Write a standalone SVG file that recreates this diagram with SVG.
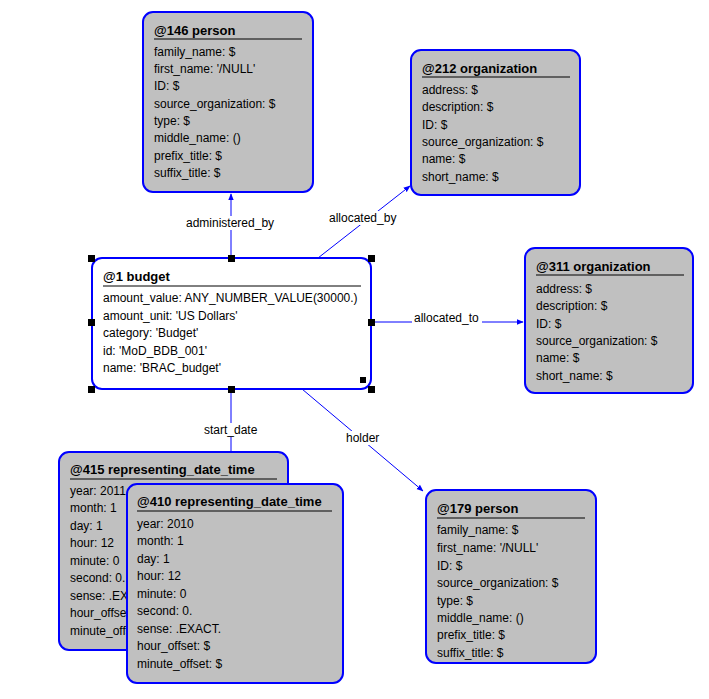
<svg xmlns="http://www.w3.org/2000/svg" width="709" height="699" viewBox="0 0 709 699">
<style>
.box{fill:#c0c0c0;stroke:#0000ff;stroke-width:2}
.sel{fill:#fff;stroke:#0000ff;stroke-width:2}
text{font-family:"Liberation Sans",Arial,sans-serif;font-size:12px;fill:#000}
.t{font-weight:bold;font-size:13px}
.ul{stroke:#000;stroke-width:1}
.c{stroke:#0000ff;stroke-width:1;fill:none}
.h{fill:#000}
</style>
<defs><marker id="a" viewBox="0 0 10 10" refX="9" refY="5" markerWidth="7" markerHeight="7" orient="auto"><path d="M0,1 L10,5 L0,9 z" fill="#0000ff"/></marker>
<clipPath id="cl"><rect x="59" y="484" width="67" height="170"/></clipPath></defs>
<rect width="709" height="699" fill="#fff"/>
<g id="connectors">
<line class="c" x1="231" y1="258" x2="231" y2="194" marker-end="url(#a)"/>
<line class="c" x1="318" y1="258" x2="410" y2="186" marker-end="url(#a)"/>
<line class="c" x1="371" y1="322" x2="523" y2="322" marker-end="url(#a)"/>
<line class="c" x1="231" y1="389" x2="231" y2="484" marker-end="url(#a)"/>
<line class="c" x1="302" y1="389" x2="423" y2="491" marker-end="url(#a)"/>
<rect x="182" y="216" width="96" height="14" fill="#fff"/><text x="186" y="227">administered_by</text>
<rect x="326" y="211" width="72" height="14" fill="#fff"/><text x="329" y="222">allocated_by</text>
<rect x="412" y="311" width="70" height="14" fill="#fff"/><text x="414" y="322">allocated_to</text>
<rect x="200" y="423" width="60" height="14" fill="#fff"/><text x="204" y="434">start_date</text>
<rect x="344" y="431" width="38" height="14" fill="#fff"/><text x="346" y="442">holder</text>
</g>
<g id="n146"><rect class="box" x="143" y="12" width="170" height="180" rx="10"/>
<text class="t" x="154" y="35">@146 person</text><line class="ul" x1="154" y1="39" x2="302" y2="39"/>
<text x="154" y="56">family_name: $</text><text x="154" y="73">first_name: '/NULL'</text><text x="154" y="90">ID: $</text><text x="154" y="108">source_organization: $</text><text x="154" y="125">type: $</text><text x="154" y="142">middle_name: ()</text><text x="154" y="160">prefix_title: $</text><text x="154" y="177">suffix_title: $</text></g>
<g id="n212"><rect class="box" x="411" y="50" width="169" height="145" rx="10"/>
<text class="t" x="422" y="73">@212 organization</text><line class="ul" x1="422" y1="77" x2="570" y2="77"/>
<text x="422" y="94">address: $</text><text x="422" y="111">description: $</text><text x="422" y="129">ID: $</text><text x="422" y="146">source_organization: $</text><text x="422" y="163">name: $</text><text x="422" y="181">short_name: $</text></g>
<g id="n311"><rect class="box" x="525" y="248" width="168" height="145" rx="10"/>
<text class="t" x="536" y="271">@311 organization</text><line class="ul" x1="536" y1="275" x2="684" y2="275"/>
<text x="536" y="293">address: $</text><text x="536" y="310">description: $</text><text x="536" y="328">ID: $</text><text x="536" y="345">source_organization: $</text><text x="536" y="362">name: $</text><text x="536" y="380">short_name: $</text></g>
<g id="n1"><rect class="sel" x="92" y="258" width="279" height="131" rx="10"/>
<text class="t" x="103" y="281">@1 budget</text><line class="ul" x1="103" y1="286" x2="361" y2="286"/>
<text x="103" y="302">amount_value: ANY_NUMBER_VALUE(30000.)</text><text x="103" y="320">amount_unit: 'US Dollars'</text><text x="103" y="337">category: 'Budget'</text><text x="103" y="355">id: 'MoD_BDB_001'</text><text x="103" y="372">name: 'BRAC_budget'</text>
<rect class="h" x="88" y="255" width="7" height="7"/><rect class="h" x="228" y="255" width="7" height="7"/><rect class="h" x="368" y="255" width="7" height="7"/>
<rect class="h" x="88" y="319" width="7" height="7"/><rect class="h" x="368" y="319" width="7" height="7"/>
<rect class="h" x="88" y="386" width="7" height="7"/><rect class="h" x="228" y="386" width="7" height="7"/><rect class="h" x="368" y="386" width="7" height="7"/>
<rect class="h" x="360" y="377" width="6" height="6"/></g>
<g id="n415"><rect class="box" x="59" y="452" width="229" height="198" rx="10"/>
<text class="t" x="70" y="474">@415 representing_date_time</text><line class="ul" x1="70" y1="479" x2="277" y2="479"/>
<g clip-path="url(#cl)"><text x="70" y="495">year: 2011</text><text x="70" y="512">month: 1</text><text x="70" y="530">day: 1</text><text x="70" y="547">hour: 12</text><text x="70" y="565">minute: 0</text><text x="70" y="582">second: 0.</text><text x="70" y="600">sense: .EXACT.</text><text x="70" y="617">hour_offset: $</text><text x="70" y="635">minute_offset: $</text></g></g>
<g id="n410"><rect class="box" x="127" y="484" width="216" height="199" rx="10"/>
<text class="t" x="137" y="506">@410 representing_date_time</text><line class="ul" x1="137" y1="511" x2="332" y2="511"/>
<text x="137" y="528">year: 2010</text><text x="137" y="545">month: 1</text><text x="137" y="563">day: 1</text><text x="137" y="580">hour: 12</text><text x="137" y="598">minute: 0</text><text x="137" y="615">second: 0.</text><text x="137" y="633">sense: .EXACT.</text><text x="137" y="650">hour_offset: $</text><text x="137" y="668">minute_offset: $</text></g>
<g id="n179"><rect class="box" x="426" y="490" width="170" height="173" rx="10"/>
<text class="t" x="437" y="513">@179 person</text><line class="ul" x1="437" y1="518" x2="585" y2="518"/>
<text x="437" y="534">family_name: $</text><text x="437" y="552">first_name: '/NULL'</text><text x="437" y="570">ID: $</text><text x="437" y="587">source_organization: $</text><text x="437" y="605">type: $</text><text x="437" y="622">middle_name: ()</text><text x="437" y="639">prefix_title: $</text><text x="437" y="657">suffix_title: $</text></g>
</svg>
